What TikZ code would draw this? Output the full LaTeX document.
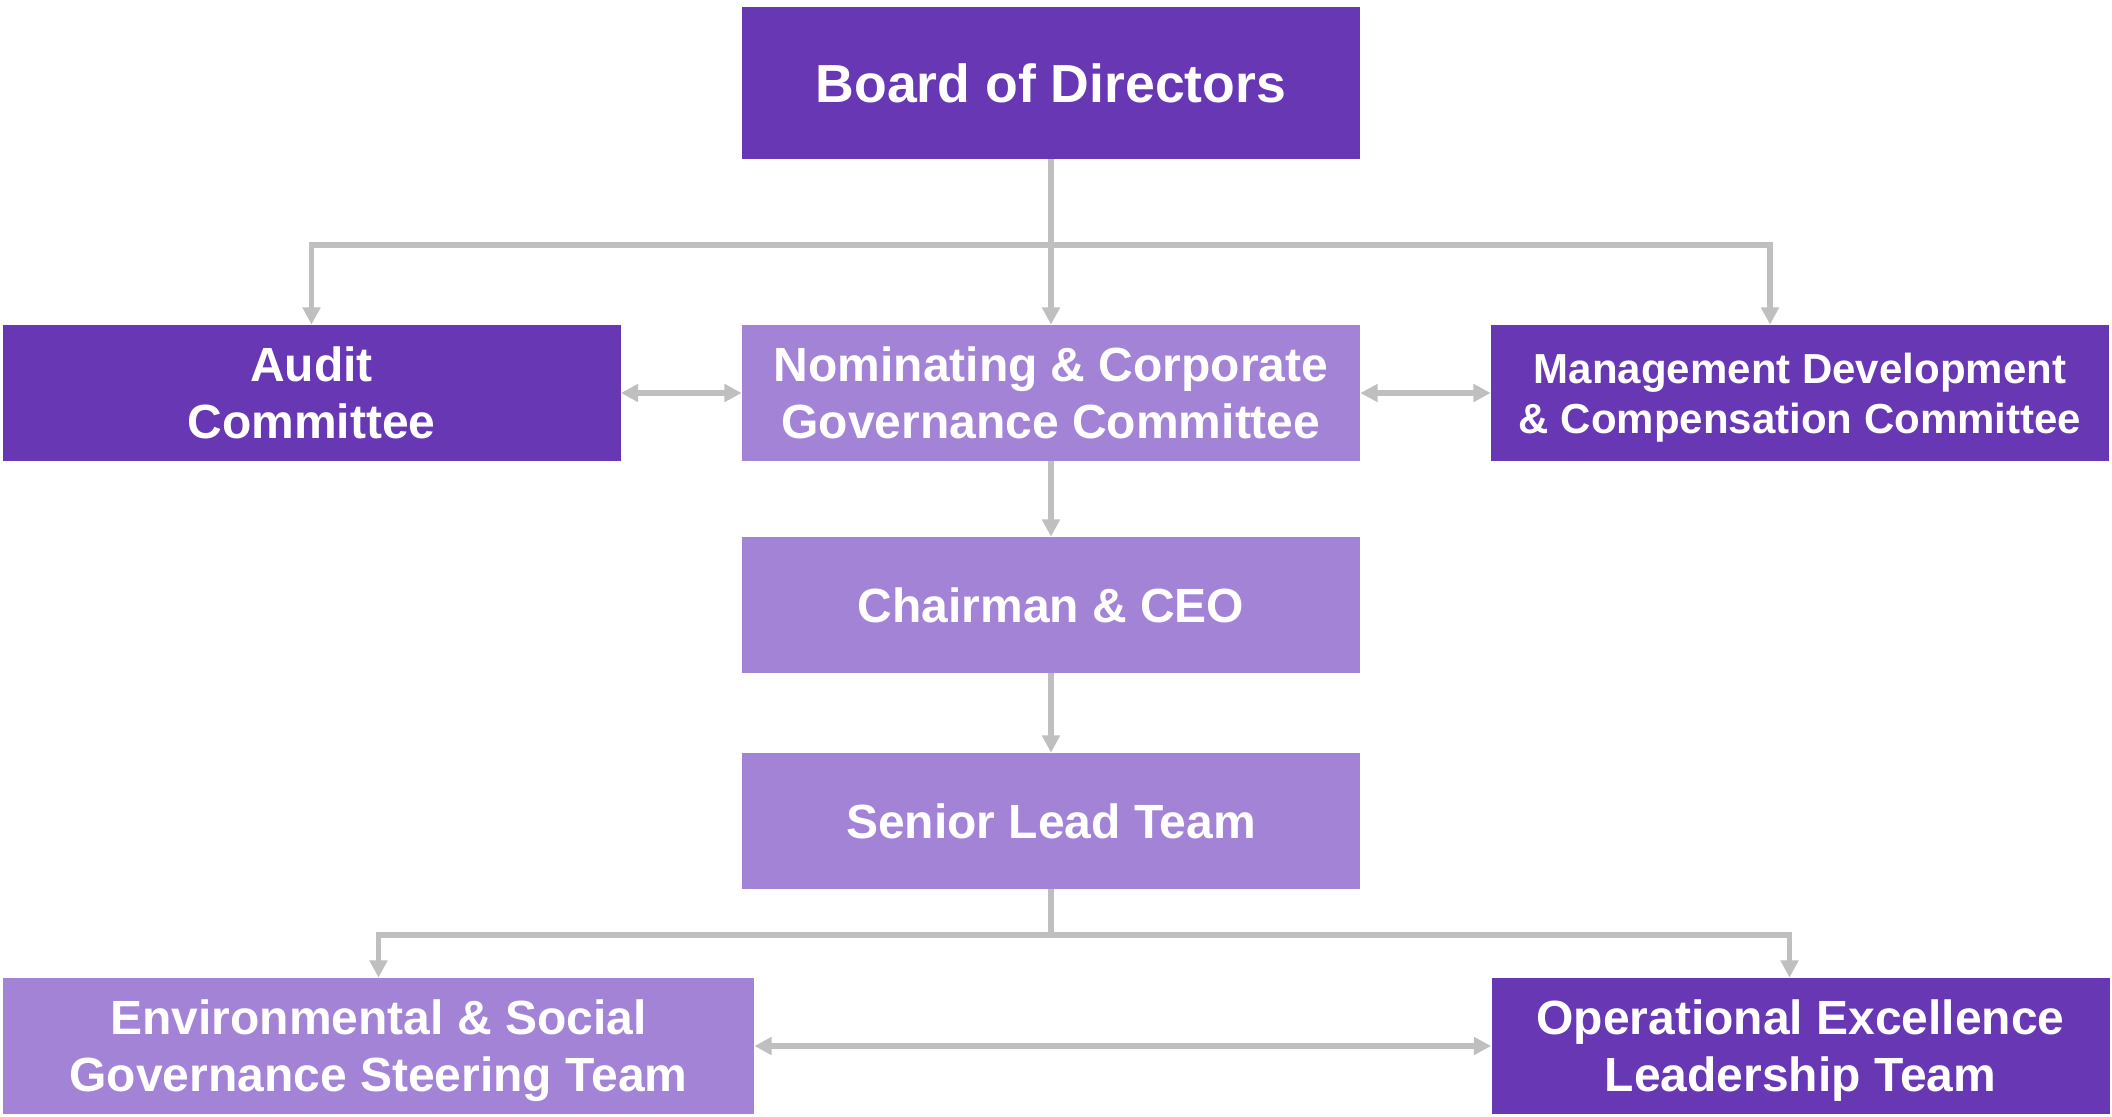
\documentclass[tikz,border=0pt]{standalone}
\usepackage{fontspec}
\setmainfont{Liberation Sans}
\usetikzlibrary{arrows.meta}
\definecolor{darkpurple}{HTML}{6737B4}
\definecolor{lightpurple}{HTML}{A383D6}
\definecolor{linegray}{HTML}{BFBFBF}
\begin{document}
\begin{tikzpicture}[x=0.5pt,y=-0.5pt,
  box/.style={rectangle, inner sep=0pt, text=white, align=center,
    font=\bfseries\fontsize{24pt}{28.5pt}\selectfont,
    text depth=0pt,
    minimum height=68pt, minimum width=309pt},
  darkbox/.style={box, fill=darkpurple},
  lightbox/.style={box, fill=lightpurple},
  link/.style={draw=linegray, line width=2.6pt},
  arrow/.style={link, -{Triangle[width=8.6pt,length=8.6pt]}},
  twoway/.style={link, {Triangle[width=8.6pt,length=8.6pt]}-{Triangle[width=8.6pt,length=8.6pt]}}
]
\useasboundingbox (0,0) rectangle (2112,1117);

% boxes
\node[darkbox, minimum height=76pt, font=\bfseries\fontsize{26.8pt}{32pt}\selectfont] (board) at (1051,83) {Board of Directors};
\node[darkbox] (audit) at (311.5,393) {Audit\\Committee};
\node[lightbox] (nom) at (1051,393) {Nominating \& Corporate\\Governance Committee};
\node[darkbox, font=\bfseries\fontsize{21pt}{25pt}\selectfont] (mgmt) at (1800,393) {Management Development\\\& Compensation Committee};
\node[lightbox] (chair) at (1051,605) {Chairman \& CEO};
\node[lightbox] (senior) at (1051,821) {Senior Lead Team};
\node[lightbox, minimum width=375.5pt] (env) at (378.5,1046) {Environmental \& Social\\Governance Steering Team};
\node[darkbox] (ops) at (1800.5,1046) {Operational Excellence\\Leadership Team};

% branch points
\coordinate (topbus) at (1051,245);
\coordinate (lowbus) at (1051,935);

% board to committees
\draw[link] (board.south) -- (topbus);
\draw[arrow] (topbus) -| (audit.north);
\draw[arrow] (topbus) -- (nom.north);
\draw[arrow] (topbus) -| ([xshift=-15pt]mgmt.north);

% committee links
\draw[twoway] (audit.east) -- (nom.west);
\draw[twoway] (nom.east) -- (mgmt.west);

% management chain
\draw[arrow] (nom.south) -- (chair.north);
\draw[arrow] (chair.south) -- (senior.north);

% senior team to working teams
\draw[link] (senior.south) -- (lowbus);
\draw[arrow] (lowbus) -| (env.north);
\draw[arrow] (lowbus) -| ([xshift=-5.5pt]ops.north);
\draw[twoway] (env.east) -- (ops.west);
\end{tikzpicture}
\end{document}
